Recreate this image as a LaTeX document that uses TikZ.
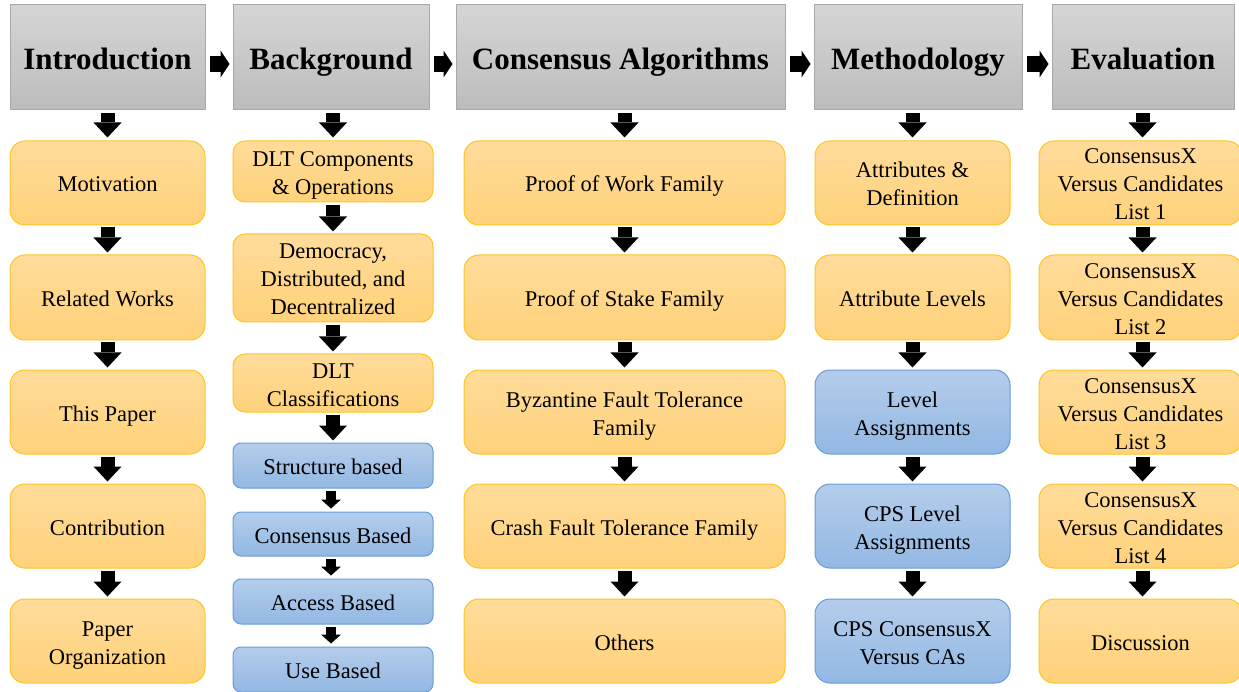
\documentclass[tikz,border=0pt]{standalone}
\usepackage{fontspec}
\setmainfont{Liberation Serif}
\usetikzlibrary{arrows.meta}
\definecolor{otop}{RGB}{255,220,155}
\definecolor{obot}{RGB}{255,210,122}
\definecolor{oline}{RGB}{255,196,30}
\definecolor{btop}{RGB}{180,205,235}
\definecolor{bbot}{RGB}{146,184,227}
\definecolor{bline}{RGB}{105,155,218}
\definecolor{gtop}{RGB}{213,213,213}
\definecolor{gbot}{RGB}{188,188,188}
\definecolor{gline}{RGB}{168,168,168}
\newcommand\mybox[7]{\node[#2, minimum width={(#5-#3)*1pt}, minimum height={(#6-#4)*1pt}] (#1) at ({(#3+#5)/2},{(#4+#6)/2}) {\rule{0pt}{23pt}#7\rule[-5pt]{0pt}{5pt}};}
\begin{document}
\begin{tikzpicture}[x=1pt,y=-1pt,
  hdr/.style={draw=gline, top color=gtop, bottom color=gbot, line width=1pt, inner sep=0pt, align=center, font=\rmfamily\fontsize{31}{36}\selectfont\bfseries,
    execute at begin node={\rule{0pt}{32pt}}, execute at end node={\rule[-8.5pt]{0pt}{8.5pt}}},
  txt/.style={line width=1pt, inner sep=0pt, align=center, font=\rmfamily\fontsize{22.5}{28}\selectfont},
  obox/.style={txt, draw=oline, top color=otop, bottom color=obot, rounded corners=15pt},
  osmall/.style={obox, rounded corners=12pt},
  bbox/.style={txt, draw=bline, top color=btop, bottom color=bbot, rounded corners=15pt},
  bsmall/.style={bbox, rounded corners=8pt},
  darr/.style={line width=14pt, -{Triangle[width=28pt,length=15pt,line width=0pt]}, shorten <=2pt, shorten >=2pt},
  sarr/.style={line width=10pt, -{Triangle[width=20pt,length=9pt,line width=0pt]}, shorten <=2pt, shorten >=3pt},
  harr/.style={line width=16pt, -{Triangle[width=27pt,length=9pt,line width=0pt]}, shorten <=4.5pt, shorten >=3pt}
]
\useasboundingbox (0,0) rectangle (1239,692);
% headers
\mybox{h1}{hdr}{10}{5}{205}{110}{Introduction}
\mybox{h2}{hdr}{233}{5}{429}{110}{Background}
\mybox{h3}{hdr}{456}{5}{785}{110}{Consensus Algorithms}
\mybox{h4}{hdr}{814}{5}{1022}{110}{Methodology}
\mybox{h5}{hdr}{1052}{5}{1234}{110}{Evaluation}
% column 1
\mybox{a1}{obox}{10}{141}{205}{225}{Motivation}
\mybox{a2}{obox}{10}{255}{205}{340}{Related Works}
\mybox{a3}{obox}{10}{370}{205}{454}{This Paper}
\mybox{a4}{obox}{10}{484}{205}{568}{Contribution}
\mybox{a5}{obox}{10}{599}{205}{683}{Paper\\Organization}
% column 2
\mybox{b1}{osmall}{233}{141}{433}{202}{DLT Components\\\& Operations}
\mybox{b2}{osmall}{233}{234}{433}{322}{Democracy,\\Distributed, and\\Decentralized}
\mybox{b3}{osmall}{233}{354}{433}{412}{DLT\\Classifications}
\mybox{b4}{bsmall}{233}{443}{433}{488}{Structure based}
\mybox{b5}{bsmall}{233}{512}{433}{556}{Consensus Based}
\mybox{b6}{bsmall}{233}{579}{433}{624}{Access Based}
\mybox{b7}{bsmall}{233}{647}{433}{692}{Use Based}
% column 3
\mybox{c1}{obox}{464}{141}{785}{225}{Proof of Work Family}
\mybox{c2}{obox}{464}{255}{785}{340}{Proof of Stake Family}
\mybox{c3}{obox}{464}{370}{785}{454}{Byzantine Fault Tolerance\\Family}
\mybox{c4}{obox}{464}{484}{785}{568}{Crash Fault Tolerance Family}
\mybox{c5}{obox}{464}{599}{785}{683}{Others}
% column 4
\mybox{d1}{obox}{815}{141}{1010}{225}{Attributes \&\\Definition}
\mybox{d2}{obox}{815}{255}{1010}{340}{Attribute Levels}
\mybox{d3}{bbox}{815}{370}{1010}{454}{Level\\Assignments}
\mybox{d4}{bbox}{815}{484}{1010}{568}{CPS Level\\Assignments}
\mybox{d5}{bbox}{815}{599}{1010}{683}{CPS ConsensusX\\Versus CAs}
% column 5
\mybox{e1}{obox}{1039}{141}{1242}{225}{ConsensusX\\Versus Candidates\\List 1}
\mybox{e2}{obox}{1039}{255}{1242}{340}{ConsensusX\\Versus Candidates\\List 2}
\mybox{e3}{obox}{1039}{370}{1242}{454}{ConsensusX\\Versus Candidates\\List 3}
\mybox{e4}{obox}{1039}{484}{1242}{568}{ConsensusX\\Versus Candidates\\List 4}
\mybox{e5}{obox}{1039}{599}{1242}{683}{Discussion}
% horizontal arrows
\draw[harr] ([yshift=-6.5pt]h1.east) -- ([yshift=-6.5pt]h2.west);
\draw[harr] ([yshift=-6.5pt]h2.east) -- ([yshift=-6.5pt]h3.west);
\draw[harr] ([yshift=-6.5pt]h3.east) -- ([yshift=-6.5pt]h4.west);
\draw[harr] ([yshift=-6.5pt]h4.east) -- ([yshift=-6.5pt]h5.west);
% header to first box
\draw[darr, shorten <=3pt, shorten >=3pt] (h1.south -| a1.north) -- (a1.north);
\draw[darr, shorten <=3pt, shorten >=3pt] (h2.south -| b1.north) -- (b1.north);
\draw[darr, shorten <=3pt, shorten >=3pt] (h3.south -| c1.north) -- (c1.north);
\draw[darr, shorten <=3pt, shorten >=3pt] (h4.south -| d1.north) -- (d1.north);
\draw[darr, shorten <=3pt, shorten >=3pt] ([xshift=2pt]h5.south -| e1.north) -- ([xshift=2pt]e1.north);
% column arrows
\draw[darr] (a1) -- (a2); \draw[darr] (a2) -- (a3); \draw[darr] (a3) -- (a4); \draw[darr] (a4) -- (a5);
\draw[darr, shorten <=3pt] (b1) -- (b2); \draw[darr, shorten <=3pt] (b2) -- (b3); \draw[darr] (b3) -- (b4);
\draw[sarr] ([xshift=-2pt]b4.south) -- ([xshift=-2pt]b5.north);
\draw[sarr] ([xshift=-2pt]b5.south) -- ([xshift=-2pt]b6.north);
\draw[sarr] ([xshift=-2pt]b6.south) -- ([xshift=-2pt]b7.north);
\draw[darr] (c1) -- (c2); \draw[darr] (c2) -- (c3); \draw[darr] (c3) -- (c4); \draw[darr] (c4) -- (c5);
\draw[darr] (d1) -- (d2); \draw[darr] (d2) -- (d3); \draw[darr] (d3) -- (d4); \draw[darr] (d4) -- (d5);
\draw[darr] ([xshift=2pt]e1.south) -- ([xshift=2pt]e2.north);
\draw[darr] ([xshift=2pt]e2.south) -- ([xshift=2pt]e3.north);
\draw[darr] ([xshift=2pt]e3.south) -- ([xshift=2pt]e4.north);
\draw[darr] ([xshift=2pt]e4.south) -- ([xshift=2pt]e5.north);
\end{tikzpicture}
\end{document}
